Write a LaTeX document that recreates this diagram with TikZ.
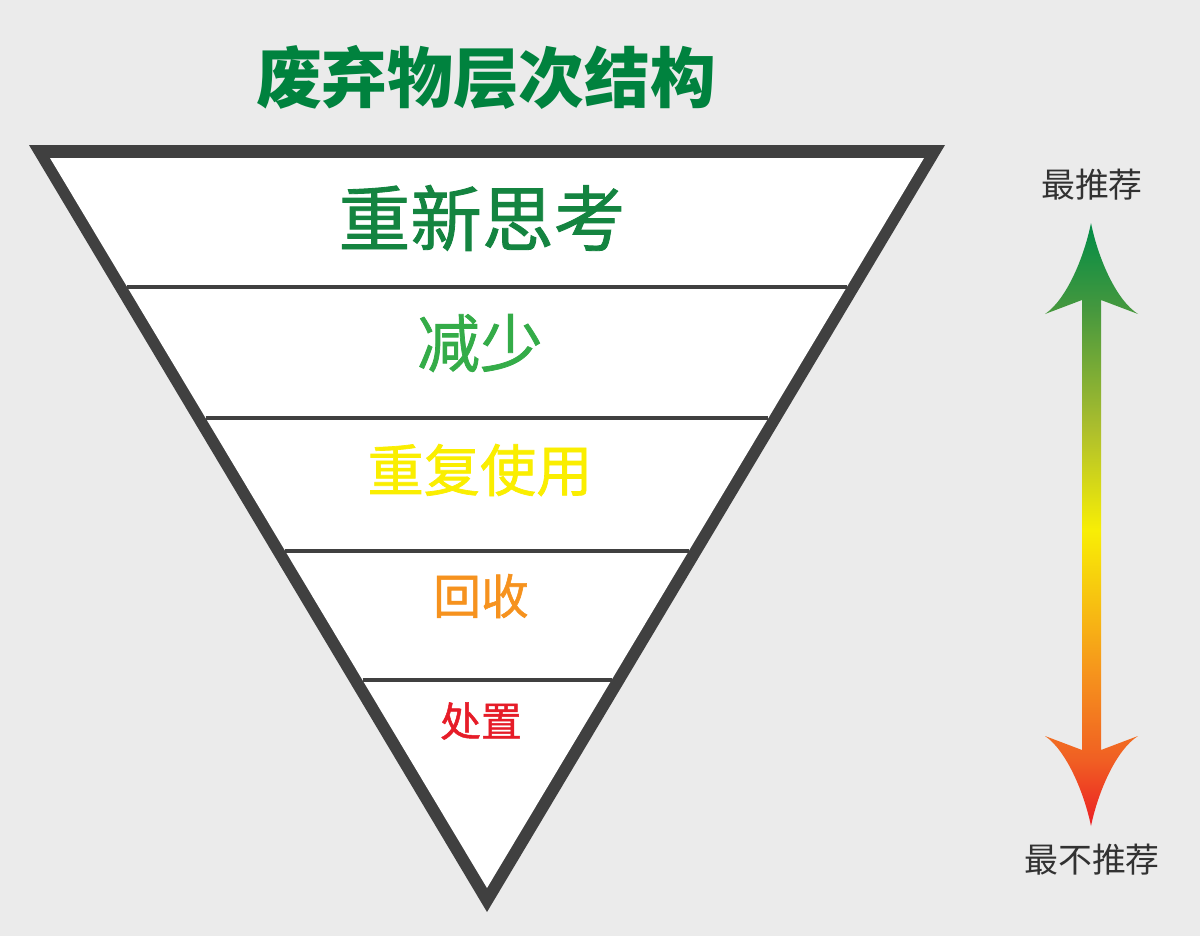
\documentclass[tikz,border=0pt]{standalone}
\usepackage{fontspec}
\usepackage{xcolor}
\usepackage{tikz}
\usetikzlibrary{calc}

\newfontfamily\cjk{Noto Sans CJK SC}
\newfontfamily\cjkmed[FakeBold=1.2]{Noto Sans CJK SC}

\definecolor{bggray}{RGB}{235,235,235}
\definecolor{rimgray}{RGB}{64,64,64}
\definecolor{titlegreen}{RGB}{0,130,62}
\definecolor{thinkgreen}{RGB}{20,132,64}
\definecolor{reducegreen}{RGB}{52,172,72}
\definecolor{reuseyellow}{RGB}{250,238,0}
\definecolor{recycleorange}{RGB}{246,146,30}
\definecolor{disposered}{RGB}{230,28,40}
\definecolor{labelgray}{RGB}{50,50,50}

% arrow colours, bottom to top
\definecolor{arrA}{RGB}{236,30,36}
\definecolor{arrB}{RGB}{240,95,35}
\definecolor{arrC}{RGB}{246,150,28}
\definecolor{arrD}{RGB}{248,238,5}
\definecolor{arrE}{RGB}{172,190,45}
\definecolor{arrF}{RGB}{70,152,62}
\definecolor{arrG}{RGB}{0,140,70}
\pgfdeclareverticalshading{hierarchy}{100bp}{color(0bp)=(arrA); color(25bp)=(arrA); color(30.5bp)=(arrB); color(38bp)=(arrC); color(49.5bp)=(arrD); color(58bp)=(arrE); color(67.8bp)=(arrF); color(75bp)=(arrG); color(100bp)=(arrG)}

\begin{document}
\begin{tikzpicture}[x=0.02cm, y=-0.02cm]
        \useasboundingbox (0,0) rectangle (1200,936);
        \fill[bggray] (0,0) rectangle (1200,936);

        \node[text=titlegreen, font=\cjk\bfseries\fontsize{37.4}{40}\selectfont] (title) at (486,77) {废弃物层次结构};

        % Triangle
        \coordinate (otl) at (29,145);
        \coordinate (otr) at (945,145);
        \coordinate (obot) at (487,912);
        \coordinate (tl) at (50,158);
        \coordinate (tr) at (924,158);
        \coordinate (bot) at (487,888);
        \fill[rimgray] (otl) -- (otr) -- (obot) -- cycle;
        \fill[white] (tl) -- (tr) -- (bot) -- cycle;

        \foreach \t in {0.1767, 0.3562, 0.5384, 0.7151} {
          \draw[rimgray, line width=2.3pt] ($(tl)!\t!(bot)$) -- ($(tr)!\t!(bot)$);
        }

        \node[text=thinkgreen, font=\cjkmed\fontsize{40.8}{44}\selectfont] (rethink) at (482,218) {重新思考};
        \node[text=reducegreen, font=\cjkmed\fontsize{35.7}{40}\selectfont] (reduce) at (480,343) {减少};
        \node[text=reuseyellow, font=\cjkmed\fontsize{32}{36}\selectfont] (reuse) at (480,470) {重复使用};
        \node[text=recycleorange, font=\cjkmed\fontsize{27.2}{30}\selectfont] (recycle) at (481,596) {回收};
        \node[text=disposered, font=\cjkmed\fontsize{23.2}{26}\selectfont] (dispose) at (481,721) {处置};

        % Arrow
        \coordinate (tipup) at (1091,223);
        \coordinate (tipdown) at (1091,826);
        \shade[shading=hierarchy] (tipup) .. controls (1084,258) and (1066,300) .. (1045,314)
          -- (1082,300) -- (1082,750) -- (1045,736)
          .. controls (1066,750) and (1084,792) .. (tipdown)
          .. controls (1098,792) and (1116,750) .. (1138,736)
          -- (1101,750) -- (1101,300) -- (1138,314)
          .. controls (1116,300) and (1098,258) .. (tipup) -- cycle;

        \node[text=labelgray, font=\cjk\fontsize{19.3}{22}\selectfont] (most) at (1092,185) {最推荐};
        \node[text=labelgray, font=\cjk\fontsize{19.3}{22}\selectfont] (least) at (1092,860) {最不推荐};
      \end{tikzpicture}
\end{document}
